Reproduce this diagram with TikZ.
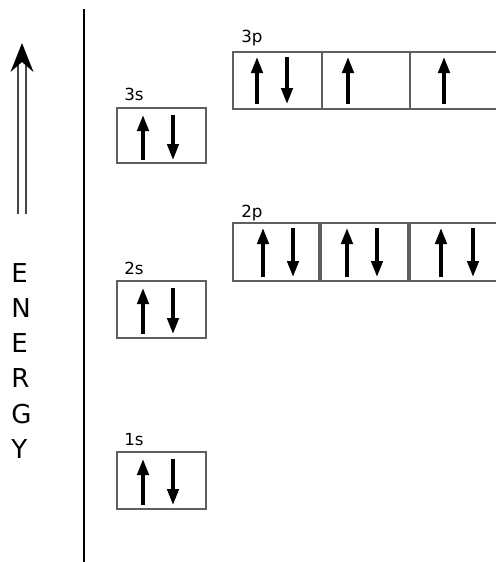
\documentclass[tikz,border=0pt]{standalone}
\usepackage{fontspec}
\setmainfont{DejaVu Sans}
\usetikzlibrary{arrows.meta}
\definecolor{boxColor}{RGB}{95,95,95}
\definecolor{axisColor}{RGB}{70,70,70}

\begin{document}
\begin{tikzpicture}[x=0.75pt,y=-0.75pt,
  orbital/.style={draw=boxColor,line width=0.8pt},
  spin/.style={line width=2.6pt,-{Triangle[length=12pt,width=8.5pt]}},
  level/.style={font=\fontsize{12.5}{14}\selectfont,anchor=base west,inner sep=0pt},
  energy/.style={font=\fontsize{19.5}{22}\selectfont,anchor=base west,inner sep=0pt}]
  \clip (0,0) rectangle (496,562);
  % Energy axis
  \draw[line width=1.1pt] (84,9) -- (84,562);
  \draw[axisColor,line width=1.4pt] (18.4,214) -- (18.4,64);
  \draw[axisColor,line width=1.4pt] (25.7,214) -- (25.7,64);
  \fill (22,43) -- (33.5,72) -- (22,62) -- (10.5,72) -- cycle;
  \foreach \ch [count=\i from 0] in {E,N,E,R,G,Y}
    \node[energy] (e\i) at (11,{282+35.3*\i}) {\ch};
  % s levels
  \node[level] (l3s) at (124,100) {3s};
  \draw[orbital] (117,108) rectangle (206,163);
  \draw[spin] (143,160) -- (143,115);
  \draw[spin] (173,115) -- (173,160);
  \node[level] (l2s) at (124,274) {2s};
  \draw[orbital] (117,281) rectangle (206,338);
  \draw[spin] (143,334) -- (143,288);
  \draw[spin] (173,288) -- (173,334);
  \node[level] (l1s) at (124,445) {1s};
  \draw[orbital] (117,452) rectangle (206,509);
  \draw[spin] (143,505) -- (143,459);
  \draw[spin] (173,459) -- (173,505);
  % p levels
  \node[level] (l3p) at (241,42) {3p};
  \draw[orbital] (233,52) rectangle (322,109);
  \draw[orbital] (322,52) rectangle (410,109);
  \draw[orbital] (410,52) rectangle (498,109);
  \draw[spin] (257,104) -- (257,57);
  \draw[spin] (287,57) -- (287,104);
  \draw[spin] (348,104) -- (348,57);
  \draw[spin] (444,104) -- (444,57);
  \node[level] (l2p) at (241,217) {2p};
  \draw[orbital] (233,223) rectangle (319,281);
  \draw[orbital] (321,223) rectangle (408,281);
  \draw[orbital] (410,223) rectangle (498,281);
  \draw[spin] (263,277) -- (263,228);
  \draw[spin] (293,228) -- (293,277);
  \draw[spin] (347,277) -- (347,228);
  \draw[spin] (377,228) -- (377,277);
  \draw[spin] (441,277) -- (441,228);
  \draw[spin] (473,228) -- (473,277);
\end{tikzpicture}
\end{document}
